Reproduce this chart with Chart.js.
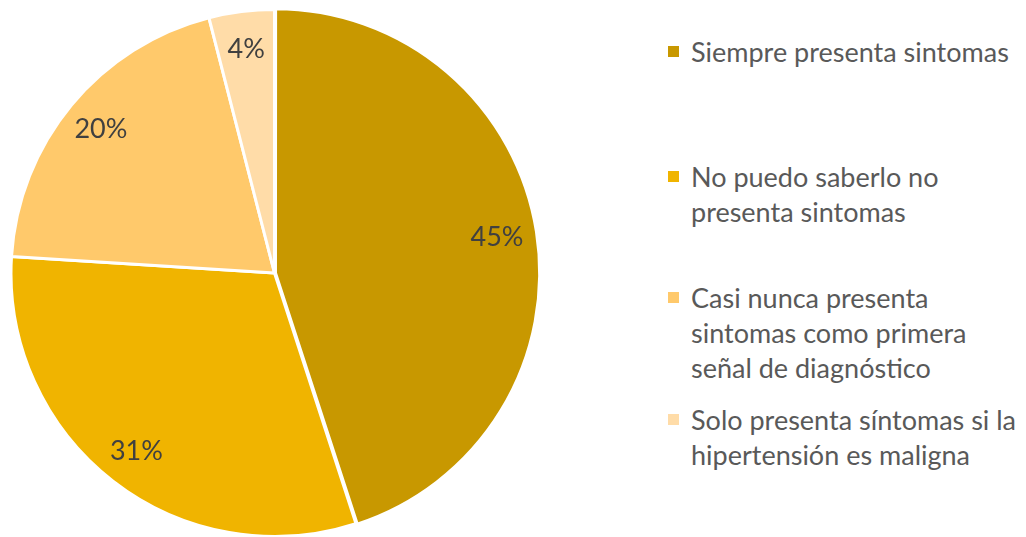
<!DOCTYPE html>
<html>
<head>
<meta charset="utf-8">
<script src="https://cdn.jsdelivr.net/npm/chart.js@4"></script>
<style>
  html, body { margin: 0; padding: 0; background: #fff; overflow: hidden; }
  #wrap { position: relative; width: 1026px; height: 537px; }
  #pieBox { position: absolute; left: 0; top: 0; width: 549px; height: 540px; }
  #legend { position: absolute; left: 668px; top: 0; width: 358px; font-family: Lato, "Open Sans", sans-serif; font-size: 27px; color: #595959; line-height: 35px; }
  .item { position: absolute; left: 0; display: flex; white-space: nowrap; }
  .box { width: 11px; height: 11px; margin-top: 12px; margin-right: 12px; flex: none; }
</style>
</head>
<body>
<div id="wrap">
  <div id="pieBox"><canvas id="pieChart"></canvas></div>
  <div id="legend"></div>
</div>
<script>
// answers and their share of responses (%)
const categories = [
  'Siempre presenta sintomas',
  'No puedo saberlo no presenta sintomas',
  'Casi nunca presenta sintomas como primera señal de diagnóstico',
  'Solo presenta síntomas si la hipertensión es maligna'
];
const legendLines = [
  ['Siempre presenta sintomas'],
  ['No puedo saberlo no', 'presenta sintomas'],
  ['Casi nunca presenta', 'sintomas como primera', 'señal de diagnóstico'],
  ['Solo presenta síntomas si la', 'hipertensión es maligna']
];
const percentages = [45, 31, 20, 4];
const sliceColors = ['#C89800', '#F0B400', '#FFC96B', '#FFDCA8'];

// legend built by hand because the text wraps
const legendTops = [34, 159, 280, 402];
const legend = document.getElementById('legend');
legendLines.forEach((lines, i) => {
  const item = document.createElement('div');
  item.className = 'item';
  item.style.top = legendTops[i] + 'px';
  item.innerHTML = '<div class="box" style="background:' + sliceColors[i] + '"></div><div>' + lines.join('<br>') + '</div>';
  legend.appendChild(item);
});

// draws the % labels inside the slices
const sliceLabels = {
  id: 'sliceLabels',
  afterDatasetsDraw(chart) {
    const ctx = chart.ctx;
    const meta = chart.getDatasetMeta(0);
    ctx.save();
    ctx.font = '27px Lato, "Open Sans", sans-serif';
    ctx.fillStyle = '#404040';
    ctx.textAlign = 'center';
    ctx.textBaseline = 'middle';
    meta.data.forEach((arc, i) => {
      const p = arc.getProps(['x', 'y', 'startAngle', 'endAngle', 'outerRadius'], true);
      const mid = (p.startAngle + p.endAngle) / 2;
      const r = p.outerRadius * 0.855;
      ctx.fillText(percentages[i] + '%', p.x + Math.cos(mid) * r, p.y + Math.sin(mid) * r);
    });
    ctx.restore();
  }
};

new Chart(document.getElementById('pieChart'), {
  type: 'pie',
  data: {
    labels: categories,
    datasets: [{
      data: percentages,
      backgroundColor: sliceColors,
      borderColor: '#ffffff',
      borderWidth: 3,
      offset: [4, 0, 0, 0]
    }]
  },
  options: {
    responsive: true,
    maintainAspectRatio: false,
    animation: false,
    layout: { padding: { top: 6, bottom: 0, left: 0, right: 0 } },
    plugins: {
      legend: { display: false },
      tooltip: { enabled: false }
    }
  },
  plugins: [sliceLabels]
});
</script>
</body>
</html>
